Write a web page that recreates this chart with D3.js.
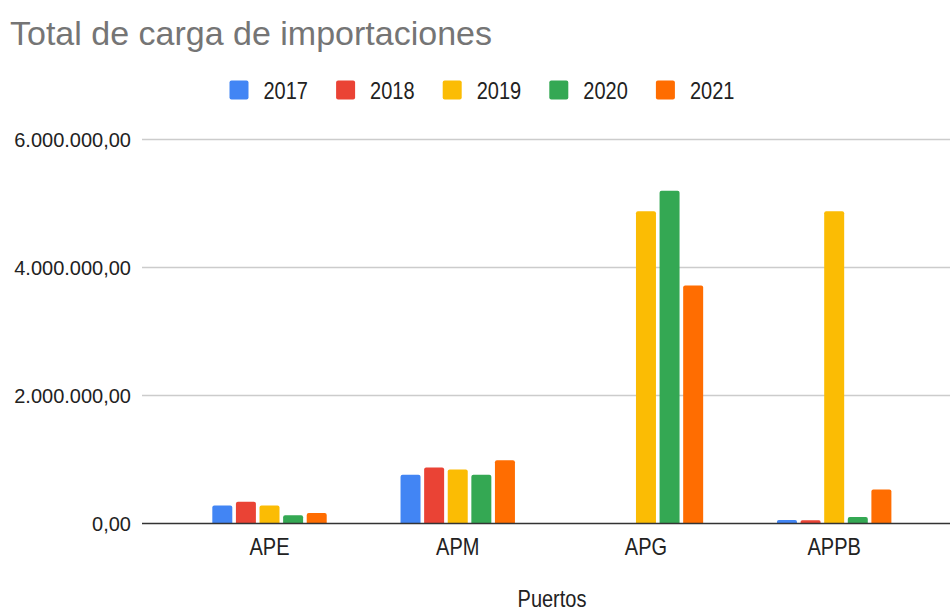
<!DOCTYPE html>
<html>
<head>
<meta charset="utf-8">
<script src="https://cdn.jsdelivr.net/npm/d3@7"></script>
<style>
  body { margin: 0; background: #fff; }
  text { font-family: "Liberation Sans", Arial, sans-serif; }
</style>
</head>
<body>
<div id="chart"></div>
<script>
(function () {
  // Data
  const ports = ["APE", "APM", "APG", "APPB"];
  const years = ["2017", "2018", "2019", "2020", "2021"];
  const values2017 = [280000, 760000, 0, 55000];
  const values2018 = [340000, 875000, 0, 50000];
  const values2019 = [280000, 845000, 4880000, 4880000];
  const values2020 = [130000, 760000, 5200000, 100000];
  const values2021 = [165000, 990000, 3720000, 530000];
  const yTicks = [0, 2000000, 4000000, 6000000];
  const colors = ["#4285F4", "#EA4335", "#FBBC04", "#34A853", "#FF6D01"];

  const seriesValues = [values2017, values2018, values2019, values2020, values2021];

  const width = 950;
  const height = 614;

  const svg = d3.select("#chart")
    .append("svg")
    .attr("width", width)
    .attr("height", height);

  // Scales
  const yScale = d3.scaleLinear().domain([0, 6000000]).range([523.5, 139.5]);
  const x0 = d3.scaleBand().domain(ports).range([175.4, 928.3]);
  const x1 = d3.scaleBand().domain(years).range([-57.2, 57.2]).paddingInner(0.153);

  const locale = d3.formatLocale({ decimal: ",", thousands: ".", grouping: [3], currency: ["", ""] });
  const fmt = locale.format(",.2f");

  // text that looks a bit stretched vertically in the original
  function tallText(g, x, y, size, txt, anchor) {
    return g.append("text")
      .attr("transform", `translate(${x},${y}) scale(1,1.2)`)
      .attr("text-anchor", anchor || "start")
      .attr("font-size", size)
      .attr("fill", "#222")
      .text(txt);
  }

  // Title
  svg.append("text")
    .attr("x", 10)
    .attr("y", 45)
    .attr("font-size", 34)
    .attr("fill", "#757575")
    .text("Total de carga de importaciones");

  // Legend
  const legend = svg.append("g");
  years.forEach((y, i) => {
    const lx = 229.5 + i * 106.6;
    legend.append("rect")
      .attr("x", lx).attr("y", 80.5)
      .attr("width", 19).attr("height", 19)
      .attr("rx", 2)
      .attr("fill", colors[i]);
    tallText(legend, lx + 34, 99, 20, y);
  });

  // Gridlines and y labels
  const grid = svg.append("g");
  yTicks.forEach((t) => {
    if (t !== 0) {
      grid.append("line")
        .attr("x1", 142).attr("x2", width)
        .attr("y1", yScale(t)).attr("y2", yScale(t))
        .attr("stroke", "#cccccc")
        .attr("stroke-width", 1.5);
    }
    grid.append("text")
      .attr("x", 131)
      .attr("y", yScale(t))
      .attr("dy", "0.36em")
      .attr("text-anchor", "end")
      .attr("font-size", 20)
      .attr("fill", "#222")
      .text(fmt(t));
  });

  // Bars with rounded tops
  function barPath(x, y0, w, y1) {
    const h = y0 - y1;
    const r = Math.min(2, h / 2, w / 2);
    return `M${x},${y0}V${y1 + r}Q${x},${y1} ${x + r},${y1}H${x + w - r}Q${x + w},${y1} ${x + w},${y1 + r}V${y0}Z`;
  }

  const barData = [];
  ports.forEach((p, pi) => {
    years.forEach((yr, yi) => {
      const v = seriesValues[yi][pi];
      if (v > 0) barData.push({ port: p, year: yr, value: v, color: colors[yi] });
    });
  });

  svg.append("g")
    .selectAll("path")
    .data(barData)
    .enter()
    .append("path")
    .attr("fill", (d) => d.color)
    .attr("d", (d) => {
      const cx = x0(d.port) + x0.bandwidth() / 2;
      return barPath(cx + x1(d.year), yScale(0), x1.bandwidth(), yScale(d.value));
    });

  // Baseline
  svg.append("line")
    .attr("x1", 142).attr("x2", width)
    .attr("y1", yScale(0)).attr("y2", yScale(0))
    .attr("stroke", "#333")
    .attr("stroke-width", 1.5);

  // Category labels
  const cats = svg.append("g");
  ports.forEach((p) => {
    tallText(cats, x0(p) + x0.bandwidth() / 2, 555, 20, p, "middle");
  });

  // Axis title
  tallText(svg, 552, 607, 20, "Puertos", "middle");
})();
</script>
</body>
</html>
